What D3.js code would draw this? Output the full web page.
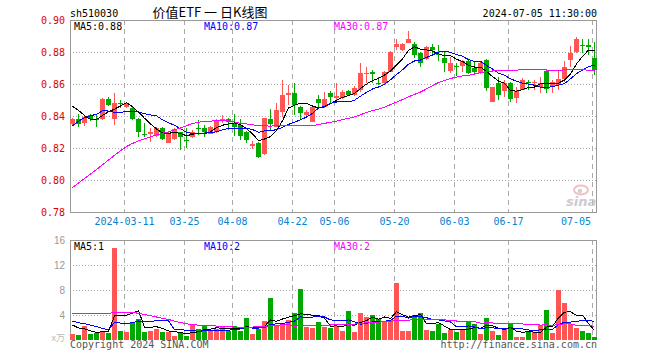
<!DOCTYPE html>
<html>
<head>
<meta charset="utf-8">
<script src="https://cdn.jsdelivr.net/npm/d3@7"></script>
<style>
  body { margin: 0; background: #fff; }
  svg { display: block; }
</style>
</head>
<body>
<svg id="chart"></svg>
<script>
const width = 660;
const height = 360;

// trading days shown
const dates = [
  '2024-02-27','2024-02-28','2024-02-29','2024-03-01','2024-03-04','2024-03-05','2024-03-06','2024-03-07','2024-03-08',
  '2024-03-11','2024-03-12','2024-03-13','2024-03-14','2024-03-15','2024-03-18','2024-03-19','2024-03-20','2024-03-21','2024-03-22',
  '2024-03-25','2024-03-26','2024-03-27','2024-03-28','2024-03-29','2024-04-01','2024-04-02','2024-04-03',
  '2024-04-08','2024-04-09','2024-04-10','2024-04-11','2024-04-12','2024-04-15','2024-04-16','2024-04-17','2024-04-18','2024-04-19',
  '2024-04-22','2024-04-23','2024-04-24','2024-04-25','2024-04-26','2024-04-29','2024-04-30',
  '2024-05-06','2024-05-07','2024-05-08','2024-05-09','2024-05-10','2024-05-13','2024-05-14','2024-05-15','2024-05-16','2024-05-17',
  '2024-05-20','2024-05-21','2024-05-22','2024-05-23','2024-05-24','2024-05-27','2024-05-28','2024-05-29','2024-05-30','2024-05-31',
  '2024-06-03','2024-06-04','2024-06-05','2024-06-06','2024-06-07','2024-06-11','2024-06-12','2024-06-13','2024-06-14',
  '2024-06-17','2024-06-18','2024-06-19','2024-06-20','2024-06-21','2024-06-24','2024-06-25','2024-06-26','2024-06-27','2024-06-28',
  '2024-07-01','2024-07-02','2024-07-03','2024-07-04','2024-07-05'
];

const open = [
  0.8348,0.8381,0.8354,0.8404,0.8380,0.8381,0.8506,0.8379,0.8481,0.8458,
  0.8448,0.8380,0.8290,0.8288,0.8275,0.8323,0.8233,0.8254,0.8298,0.8252,
  0.8267,0.8323,0.8323,0.8290,0.8300,0.8375,0.8380,0.8354,0.8344,0.8300,
  0.8213,0.8230,0.8163,0.8380,0.8333,0.8427,0.8531,0.8546,0.8458,0.8406,
  0.8364,0.8504,0.8458,0.8546,0.8510,0.8510,0.8556,0.8531,0.8562,0.8663,
  0.8677,0.8606,0.8604,0.8677,0.8833,0.8812,0.8858,0.8850,0.8796,0.8754,
  0.8833,0.8790,0.8765,0.8681,0.8715,0.8713,0.8744,0.8698,0.8671,0.8750,
  0.8490,0.8604,0.8556,0.8604,0.8512,0.8563,0.8610,0.8608,0.8583,0.8683,
  0.8580,0.8594,0.8629,0.8750,0.8798,0.8846,0.8844,0.8760
];
const high = [
  0.8390,0.8413,0.8405,0.8410,0.8406,0.8510,0.8517,0.8546,0.8500,0.8490,
  0.8462,0.8385,0.8354,0.8323,0.8330,0.8330,0.8300,0.8325,0.8300,0.8323,
  0.8310,0.8375,0.8344,0.8340,0.8380,0.8406,0.8385,0.8412,0.8379,0.8305,
  0.8245,0.8240,0.8390,0.8442,0.8479,0.8625,0.8594,0.8604,0.8460,0.8435,
  0.8465,0.8531,0.8552,0.8556,0.8604,0.8560,0.8560,0.8585,0.8730,0.8708,
  0.8688,0.8646,0.8680,0.8805,0.8880,0.8855,0.8931,0.8860,0.8800,0.8835,
  0.8850,0.8844,0.8798,0.8771,0.8729,0.8750,0.8750,0.8740,0.8735,0.8755,
  0.8580,0.8646,0.8625,0.8610,0.8583,0.8640,0.8625,0.8625,0.8646,0.8685,
  0.8625,0.8688,0.8744,0.8838,0.8896,0.8879,0.8879,0.8864
];
const low = [
  0.8335,0.8330,0.8335,0.8370,0.8330,0.8375,0.8460,0.8344,0.8448,0.8450,
  0.8375,0.8270,0.8270,0.8240,0.8270,0.8250,0.8230,0.8250,0.8188,0.8200,
  0.8260,0.8281,0.8271,0.8285,0.8295,0.8354,0.8313,0.8275,0.8250,0.8230,
  0.8195,0.8140,0.8155,0.8313,0.8330,0.8396,0.8469,0.8406,0.8375,0.8400,
  0.8360,0.8448,0.8448,0.8475,0.8490,0.8505,0.8525,0.8525,0.8552,0.8604,
  0.8604,0.8594,0.8600,0.8672,0.8813,0.8806,0.8854,0.8761,0.8704,0.8750,
  0.8775,0.8746,0.8677,0.8671,0.8650,0.8677,0.8660,0.8656,0.8665,0.8556,
  0.8485,0.8500,0.8521,0.8490,0.8479,0.8560,0.8563,0.8563,0.8542,0.8542,
  0.8542,0.8563,0.8615,0.8704,0.8792,0.8792,0.8781,0.8656
];
const close = [
  0.8381,0.8350,0.8396,0.8383,0.8379,0.8506,0.8469,0.8479,0.8480,0.8480,
  0.8381,0.8302,0.8288,0.8302,0.8323,0.8254,0.8292,0.8317,0.8269,0.8250,
  0.8302,0.8321,0.8302,0.8333,0.8375,0.8380,0.8364,0.8333,0.8275,0.8250,
  0.8223,0.8146,0.8386,0.8350,0.8438,0.8531,0.8546,0.8469,0.8417,0.8427,
  0.8454,0.8480,0.8504,0.8520,0.8527,0.8552,0.8531,0.8577,0.8670,0.8667,
  0.8661,0.8604,0.8677,0.8800,0.8850,0.8850,0.8879,0.8781,0.8729,0.8829,
  0.8812,0.8788,0.8730,0.8730,0.8713,0.8744,0.8667,0.8677,0.8730,0.8577,
  0.8579,0.8531,0.8604,0.8506,0.8556,0.8625,0.8608,0.8610,0.8608,0.8569,
  0.8610,0.8631,0.8708,0.8796,0.8881,0.8844,0.8830,0.8688
];
// volume, x万
const volume = [
  0.96,0.80,2.24,0.96,1.17,1.44,1.07,14.67,1.44,1.33,
  2.77,3.30,1.33,1.49,1.76,1.33,1.33,0.64,1.07,0.64,
  2.40,1.76,2.40,1.49,1.71,2.03,1.49,2.24,1.49,3.57,
  0.96,1.76,3.09,6.77,2.40,2.77,3.20,4.37,8.16,2.13,
  1.97,2.93,2.13,1.97,2.24,1.49,4.69,1.33,4.37,3.73,
  4.00,3.30,3.00,3.20,9.17,1.49,1.49,4.00,4.37,1.60,
  1.49,2.50,1.17,1.60,1.33,1.60,2.93,2.56,0.96,3.57,
  1.44,0.80,1.76,2.56,0.53,0.53,1.33,1.33,2.40,4.80,
  1.17,8.00,5.97,2.56,1.97,1.44,1.17,0.53
];

// sessions before the window, only feed the moving averages
const prevClose = [
  0.752,0.755,0.750,0.756,0.761,0.758,0.760,0.763,0.769,
  0.778,0.785,0.789,0.795,0.792,0.798,0.801,0.796,0.790,0.784,0.788,
  0.806,0.818,0.826,0.828,0.830,
  0.8475,0.856,0.8508,0.8379
];
const prevVolume = [
  0.9,2.1,1.0,1.2,1.4,1.1,10.7,1.5,1.4,2.6,
  7.0,6.8,7.6,8.2,7.4,6.9,8.5,7.9,7.0,6.45,
  3.8,3.4,3.6,3.1,4.5,3.2,2.9,2.6,2.34
];

const priceTicks = [0.78, 0.80, 0.82, 0.84, 0.86, 0.88, 0.90];
const volTicks = [4, 8, 12, 16];
const dateTicks = ['2024-03-11','2024-03-25','2024-04-08','2024-04-22','2024-05-06','2024-05-20','2024-06-03','2024-06-17','2024-07-05'];
const dateTickLabels = ['2024-03-11','03-25','04-08','04-22','05-06','05-20','06-03','06-17','07-05'];
const maPeriods = [5, 10, 30];
const maColors = ['#000000', '#0000ff', '#ff00ff'];
const volMaText = ['1', '2', '2'];

const mono = '"DejaVu Sans Mono", monospace';
const up = '#ff5555';
const down = '#00a800';

// panel geometry
const left = 70, right = 597;
const pTop = 20, pBottom = 212;
const vTop = 240, vBottom = 340;

const svg = d3.select('#chart')
    .attr('width', width)
    .attr('height', height)
    .attr('viewBox', [0, 0, width, height]);

const x = d3.scaleBand().domain(dates).range([69.5, 597.5]);
const cx = d => x(d) + 3;
const y = d3.scaleLinear().domain([0.78, 0.90]).range([pBottom, pTop]);
const yv = d3.scaleLinear().domain([0, 16]).range([vBottom, vTop]);

function movingAvg(values, prev, n) {
    const all = prev.concat(values);
    return values.map((_, i) => d3.mean(all.slice(prev.length + i - n + 1, prev.length + i + 1)));
}

const candles = dates.map((d, i) => ({
    date: d, o: open[i], h: high[i], l: low[i], c: close[i], v: volume[i],
    color: close[i] >= open[i] ? up : down
}));

// header texts
svg.append('text').attr('x', 70).attr('y', 16.5)
    .attr('font-family', mono).attr('font-size', 10).attr('fill', '#000')
    .text('sh510030');
svg.append('text').attr('x', 210).attr('y', 17).attr('text-anchor', 'middle')
    .attr('font-family', '"Noto Sans CJK SC", sans-serif').attr('font-size', 13).attr('fill', '#000')
    .text('价值ETF 一 日K线图');
svg.append('text').attr('x', 597).attr('y', 16.5).attr('text-anchor', 'end')
    .attr('font-family', mono).attr('font-size', 10).attr('fill', '#000')
    .text('2024-07-05 11:30:00');

// grids
const grid = svg.append('g').attr('shape-rendering', 'crispEdges');
grid.selectAll('.hp').data(priceTicks.slice(1, -1)).join('line')
    .attr('x1', left).attr('x2', right)
    .attr('y1', d => Math.round(y(d)) + 0.5).attr('y2', d => Math.round(y(d)) + 0.5)
    .attr('stroke', '#aaa').attr('stroke-dasharray', '1,2');
grid.selectAll('.hv').data(volTicks.slice(0, -1)).join('line')
    .attr('x1', left).attr('x2', right)
    .attr('y1', d => Math.round(yv(d)) + 0.5).attr('y2', d => Math.round(yv(d)) + 0.5)
    .attr('stroke', '#aaa').attr('stroke-dasharray', '1,2');
dateTicks.forEach(d => {
    const gx = x(d) + 1;
    grid.append('line').attr('x1', gx).attr('x2', gx).attr('y1', pTop).attr('y2', pBottom)
        .attr('stroke', '#aaa').attr('stroke-dasharray', '5,4');
    grid.append('line').attr('x1', gx).attr('x2', gx).attr('y1', vTop).attr('y2', vBottom)
        .attr('stroke', '#aaa').attr('stroke-dasharray', '5,4');
});

// watermark
const wm = svg.append('g').attr('opacity', 0.85);
wm.append('ellipse').attr('cx', 581).attr('cy', 190).attr('rx', 7).attr('ry', 4.5)
    .attr('fill', 'none').attr('stroke', '#f3b4b4').attr('stroke-width', 2);
wm.append('circle').attr('cx', 580).attr('cy', 191).attr('r', 2.2).attr('fill', '#c8c8c8');
wm.append('text').attr('x', 566).attr('y', 206)
    .attr('font-family', '"DejaVu Sans", sans-serif').attr('font-size', 13)
    .attr('font-weight', 'bold').attr('font-style', 'italic').attr('fill', '#c4c4c4')
    .text('sina');

// frames
const frame = svg.append('g').attr('shape-rendering', 'crispEdges')
    .attr('stroke', '#999').attr('fill', 'none');
frame.append('rect').attr('x', left + 0.5).attr('y', pTop + 0.5)
    .attr('width', right - left - 1).attr('height', pBottom - pTop);
frame.append('path')
    .attr('d', `M${left + 0.5},${vBottom}V${vTop + 0.5}H${right - 0.5}V${vBottom}`);

// axis labels
svg.append('g').selectAll('text').data(priceTicks).join('text')
    .attr('x', 65).attr('y', d => y(d) + 4).attr('text-anchor', 'end')
    .attr('font-family', mono).attr('font-size', 10).attr('fill', '#e00000')
    .text(d3.format('.2f'));
svg.append('g').selectAll('text').data(volTicks).join('text')
    .attr('x', 65).attr('y', d => yv(d) + 3.5).attr('text-anchor', 'end')
    .attr('font-family', '"Liberation Sans", sans-serif').attr('font-size', 10).attr('fill', '#999')
    .text(d => d);
svg.append('text').attr('x', 65).attr('y', 341).attr('text-anchor', 'end')
    .attr('font-family', '"Noto Sans CJK SC", sans-serif').attr('font-size', 9).attr('fill', '#bbb')
    .text('x万');

const dateLabels = svg.append('g').selectAll('text').data(dateTicks).join('text')
    .attr('y', 225)
    .attr('font-family', mono).attr('font-size', 10).attr('fill', '#0583d2')
    .attr('text-anchor', 'middle')
    .text((d, i) => dateTickLabels[i]);
dateLabels.attr('x', function(d) {
    const w = this.getComputedTextLength();
    return Math.min(x(d) + 1, 591 - w / 2);
});

// candles
const cg = svg.append('g').attr('shape-rendering', 'crispEdges');
cg.selectAll('line').data(candles).join('line')
    .attr('x1', d => cx(d.date)).attr('x2', d => cx(d.date))
    .attr('y1', d => y(d.h)).attr('y2', d => y(d.l))
    .attr('stroke', d => d.color);
cg.selectAll('rect').data(candles).join('rect')
    .attr('x', d => x(d.date) + 0.5)
    .attr('width', 5)
    .attr('y', d => y(Math.max(d.o, d.c)))
    .attr('height', d => Math.max(1, Math.abs(y(d.o) - y(d.c))))
    .attr('fill', d => d.color);

// volume bars
svg.append('g').attr('shape-rendering', 'crispEdges')
    .selectAll('rect').data(candles).join('rect')
    .attr('x', d => x(d.date) + 0.5)
    .attr('width', 5)
    .attr('y', d => yv(d.v))
    .attr('height', d => vBottom - yv(d.v))
    .attr('fill', d => d.color);

// moving averages
const priceMa = maPeriods.map(n => movingAvg(close, prevClose, n));
const volMa = maPeriods.map(n => movingAvg(volume, prevVolume, n));

const priceLine = d3.line().x((d, i) => cx(dates[i])).y(d => y(d));
const volLine = d3.line().x((d, i) => cx(dates[i])).y(d => yv(d));

svg.append('g').attr('fill', 'none').attr('stroke-width', 1).attr('shape-rendering', 'crispEdges')
    .selectAll('path').data(priceMa).join('path')
    .attr('stroke', (d, i) => maColors[i])
    .attr('d', priceLine);
svg.append('g').attr('fill', 'none').attr('stroke-width', 1).attr('shape-rendering', 'crispEdges')
    .selectAll('path').data(volMa).join('path')
    .attr('stroke', (d, i) => maColors[i])
    .attr('d', volLine);

// MA legends
const legendX = [74, 204, 334];
svg.append('g').selectAll('text').data(maPeriods).join('text')
    .attr('x', (d, i) => legendX[i]).attr('y', 29.5)
    .attr('font-family', mono).attr('font-size', 10)
    .attr('fill', (d, i) => maColors[i])
    .text((d, i) => `MA${d}:${d3.format('.2f')(priceMa[i][priceMa[i].length - 1])}`);
svg.append('g').selectAll('text').data(maPeriods).join('text')
    .attr('x', (d, i) => legendX[i]).attr('y', 250)
    .attr('font-family', mono).attr('font-size', 10)
    .attr('fill', (d, i) => maColors[i])
    .text((d, i) => `MA${d}:${volMaText[i]}`);

// footer
svg.append('text').attr('x', 70).attr('y', 347.5)
    .attr('font-family', mono).attr('font-size', 10).attr('fill', '#555')
    .text('Copyright 2024 SINA.COM');
svg.append('text').attr('x', 597).attr('y', 347.5).attr('text-anchor', 'end')
    .attr('font-family', mono).attr('font-size', 10).attr('fill', '#555')
    .text('http://finance.sina.com.cn');
</script>
</body>
</html>
